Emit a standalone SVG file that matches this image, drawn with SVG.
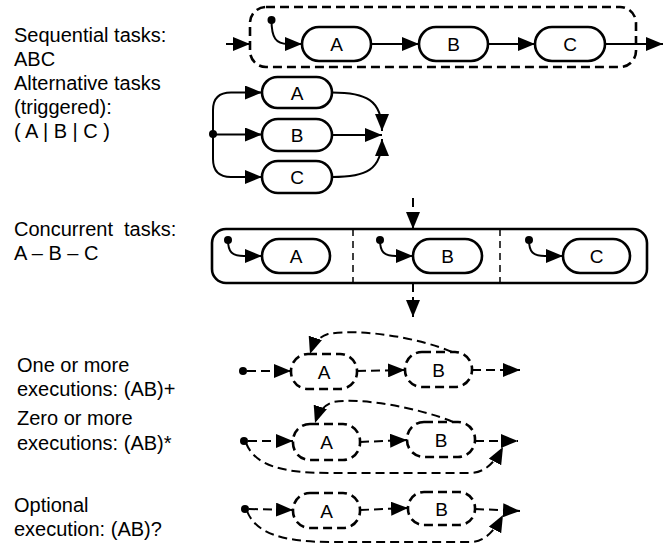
<svg xmlns="http://www.w3.org/2000/svg" width="670" height="546" viewBox="0 0 670 546">
<style>
.lbl{font-family:"Liberation Sans",Arial,sans-serif;font-size:20px;fill:#000}
.bt{font-family:"Liberation Sans",Arial,sans-serif;font-size:19px;fill:#000;text-anchor:middle}
.box{fill:#fff;stroke:#000;stroke-width:2.6}
.dbox{fill:#fff;stroke:#000;stroke-width:2.6;stroke-dasharray:9 5}
.ln{fill:none;stroke:#000;stroke-width:2}
.dl{fill:none;stroke:#000;stroke-width:2;stroke-dasharray:9 5}
.dot{fill:#000}
</style>
<defs>
<marker id="ar" markerUnits="userSpaceOnUse" markerWidth="18" markerHeight="14" refX="17" refY="7" orient="auto">
<path d="M0,0 L17,7 L0,14 z" fill="#000"/>
</marker>
</defs>
<rect width="670" height="546" fill="#fff"/>

<g id="labels">
<text class="lbl" x="14" y="42">Sequential tasks:</text>
<text class="lbl" x="14" y="66">ABC</text>
<text class="lbl" x="14" y="90">Alternative tasks</text>
<text class="lbl" x="14" y="114">(triggered):</text>
<text class="lbl" x="14" y="138" xml:space="preserve">( A | B | C )</text>
<text class="lbl" x="14" y="236" xml:space="preserve">Concurrent  tasks:</text>
<text class="lbl" x="14" y="260">A – B – C</text>
<text class="lbl" x="17" y="372">One or more</text>
<text class="lbl" x="17" y="396">executions: (AB)+</text>
<text class="lbl" x="17" y="425">Zero or more</text>
<text class="lbl" x="17" y="450">executions: (AB)*</text>
<text class="lbl" x="14" y="512">Optional</text>
<text class="lbl" x="14" y="536">execution: (AB)?</text>
</g>

<!-- Sequential -->
<g id="seq-container"><rect class="dbox" x="250" y="7" width="386" height="60" rx="16" style="fill:none"/></g>
<g id="seq-A"><rect class="box" x="302" y="27" width="69" height="34" rx="17"/><text class="bt" x="336.5" y="51">A</text></g>
<g id="seq-B"><rect class="box" x="419" y="27" width="69" height="34" rx="17"/><text class="bt" x="453.5" y="51">B</text></g>
<g id="seq-C"><rect class="box" x="535" y="27" width="70" height="34" rx="17"/><text class="bt" x="570" y="51">C</text></g>
<g id="seq-start"><circle class="dot" cx="271.5" cy="20" r="4"/></g>

<!-- Alternative -->
<g id="alt-A"><rect class="box" x="262" y="77" width="70" height="31" rx="15.5"/><text class="bt" x="297" y="99.5">A</text></g>
<g id="alt-B"><rect class="box" x="262" y="119" width="70" height="32" rx="16"/><text class="bt" x="297" y="142">B</text></g>
<g id="alt-C"><rect class="box" x="262" y="161" width="70" height="32" rx="16"/><text class="bt" x="297" y="184">C</text></g>
<g id="alt-start"><circle class="dot" cx="213" cy="134" r="4"/></g>

<!-- Concurrent -->
<g id="conc-container">
<rect class="box" x="212" y="229" width="435" height="54" rx="14" style="fill:none"/>
<line x1="353" y1="229" x2="353" y2="283" stroke="#000" stroke-width="1.5" stroke-dasharray="7 5"/>
<line x1="500" y1="229" x2="500" y2="283" stroke="#000" stroke-width="1.5" stroke-dasharray="7 5"/>
</g>
<g id="conc-A"><rect class="box" x="262" y="239" width="68" height="34" rx="17"/><text class="bt" x="296" y="263">A</text></g>
<g id="conc-B"><rect class="box" x="413" y="239" width="69" height="34" rx="17"/><text class="bt" x="447.5" y="263">B</text></g>
<g id="conc-C"><rect class="box" x="563" y="239" width="67" height="34" rx="17"/><text class="bt" x="596.5" y="263">C</text></g>
<g id="conc-starts">
<circle class="dot" cx="228" cy="240" r="4"/>
<circle class="dot" cx="380" cy="240" r="4"/>
<circle class="dot" cx="529" cy="240" r="4"/>
</g>

<!-- One or more -->
<g id="one-A"><rect class="dbox" x="291" y="354" width="66" height="35" rx="17"/><text class="bt" x="324" y="378.5">A</text></g>
<g id="one-B"><rect class="dbox" x="405" y="352" width="67" height="35" rx="17"/><text class="bt" x="438.5" y="376.5">B</text></g>
<g id="one-start"><circle class="dot" cx="243" cy="371" r="4"/></g>

<!-- Zero or more -->
<g id="zero-A"><rect class="dbox" x="293" y="424" width="67" height="36" rx="17"/><text class="bt" x="326.5" y="449">A</text></g>
<g id="zero-B"><rect class="dbox" x="407" y="422" width="68" height="35" rx="17"/><text class="bt" x="441" y="446.5">B</text></g>
<g id="zero-start"><circle class="dot" cx="244" cy="441" r="4"/></g>

<!-- Optional -->
<g id="opt-A"><rect class="dbox" x="293" y="493" width="67" height="35" rx="17"/><text class="bt" x="326.5" y="517.5">A</text></g>
<g id="opt-B"><rect class="dbox" x="408" y="492" width="67" height="33" rx="16"/><text class="bt" x="441.5" y="515.5">B</text></g>
<g id="opt-start"><circle class="dot" cx="245" cy="509" r="4"/></g>

<g id="connectors">
<!-- sequential -->
<path class="dl" d="M226,44 L250,44" marker-end="url(#ar)"/>
<path class="ln" d="M271.5,20 C271.5,38 276,44 288,44 L302,44" marker-end="url(#ar)"/>
<path class="ln" d="M371,44 L419,44" marker-end="url(#ar)"/>
<path class="ln" d="M488,44 L535,44" marker-end="url(#ar)"/>
<path class="ln" d="M605,44 L663,44" marker-end="url(#ar)"/>
<!-- alternative -->
<path class="ln" d="M213,134 L213,110 Q213,92.5 231,92.5 L262,92.5" marker-end="url(#ar)"/>
<path class="ln" d="M213,134.5 L262,134.5" marker-end="url(#ar)"/>
<path class="ln" d="M213,134 L213,159 Q213,177 231,177 L262,177" marker-end="url(#ar)"/>
<path class="ln" d="M332,92.5 C366,92.5 382,100 382,131" marker-end="url(#ar)"/>
<path class="ln" d="M332,135 L382,135" marker-end="url(#ar)"/>
<path class="ln" d="M332,177 C366,177 382,170 382,139" marker-end="url(#ar)"/>
<!-- concurrent -->
<path class="dl" d="M413,198 L413,229" marker-end="url(#ar)"/>
<path class="dl" d="M413,283 L413,317" marker-end="url(#ar)"/>
<path class="ln" d="M228,240 C228,252 232,256 244,256 L262,256" marker-end="url(#ar)"/>
<path class="ln" d="M380,240 C380,252 384,256 396,256 L413,256" marker-end="url(#ar)"/>
<path class="ln" d="M529,240 C529,252 533,256 545,256 L563,256" marker-end="url(#ar)"/>
<!-- one or more -->
<path class="dl" d="M247,371 L291,371" marker-end="url(#ar)"/>
<path class="dl" d="M357,371 L405,370" marker-end="url(#ar)"/>
<path class="dl" d="M472,370 L520,370" marker-end="url(#ar)"/>
<path class="dl" d="M452,352 C420,338 360,328 328,334 C318,337 313,345 310,354" marker-end="url(#ar)"/>
<!-- zero or more -->
<path class="dl" d="M248,441 L293,441" marker-end="url(#ar)"/>
<path class="dl" d="M360,442 L407,440" marker-end="url(#ar)"/>
<path class="dl" d="M475,441 L518,441" marker-end="url(#ar)"/>
<path class="dl" d="M453,422 C420,408 360,397 333,402 C322,406 318,414 315,423" marker-end="url(#ar)"/>
<path class="dl" d="M246,443 C255,465 280,473 330,473 L470,473 C485,473 495,462 503,447" marker-end="url(#ar)"/>
<!-- optional -->
<path class="dl" d="M249,509 L293,510" marker-end="url(#ar)"/>
<path class="dl" d="M360,510 L408,508" marker-end="url(#ar)"/>
<path class="dl" d="M475,509 L520,511" marker-end="url(#ar)"/>
<path class="dl" d="M247,511 C255,532 280,542 330,542 L470,542 C485,542 495,530 503,515" marker-end="url(#ar)"/>
</g>
</svg>
